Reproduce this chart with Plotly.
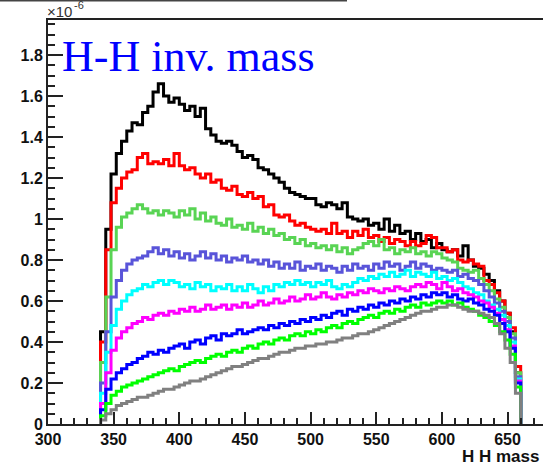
import plotly.graph_objects as go

# Histogram binning of the di-Higgs invariant mass
bin_lo = 340
bin_width = 4
n_bins = 80

# Bin contents (units of 1e-6), one list per sample
black_vals = [0.45, 0.95, 1.22, 1.32, 1.38, 1.43, 1.47, 1.46, 1.52, 1.55,
              1.62, 1.66, 1.60, 1.57, 1.59, 1.56, 1.53, 1.55, 1.50, 1.54,
              1.44, 1.41, 1.38, 1.37, 1.38, 1.36, 1.33, 1.30, 1.31, 1.29,
              1.25, 1.24, 1.22, 1.20, 1.18, 1.15, 1.13, 1.12, 1.11, 1.10,
              1.10, 1.07, 1.06, 1.08, 1.07, 1.05, 1.08, 1.01, 1.00, 0.99,
              1.00, 0.97, 0.98, 0.95, 1.00, 0.94, 0.97, 0.93, 0.94, 0.90,
              0.93, 0.89, 0.90, 0.86, 0.88, 0.85, 0.84, 0.85, 0.82, 0.87,
              0.80, 0.77, 0.76, 0.73, 0.70, 0.65, 0.60, 0.54, 0.45, 0.25]
red_vals = [0.40, 0.85, 1.08, 1.15, 1.20, 1.23, 1.24, 1.30, 1.32, 1.27,
            1.28, 1.27, 1.29, 1.26, 1.32, 1.26, 1.24, 1.25, 1.22, 1.20,
            1.22, 1.18, 1.19, 1.15, 1.14, 1.16, 1.12, 1.11, 1.13, 1.10,
            1.11, 1.06, 1.07, 1.02, 1.01, 1.02, 0.99, 0.97, 0.98, 0.96,
            0.95, 0.94, 0.95, 0.93, 0.98, 0.93, 0.94, 0.91, 0.94, 0.92,
            0.95, 0.91, 0.92, 0.89, 0.91, 0.88, 0.90, 0.89, 0.87, 0.89,
            0.87, 0.88, 0.92, 0.91, 0.86, 0.86, 0.84, 0.85, 0.80, 0.79,
            0.80, 0.78, 0.77, 0.70, 0.68, 0.64, 0.60, 0.54, 0.47, 0.28]
lightgreen_vals = [0.30, 0.62, 0.85, 0.96, 1.01, 1.03, 1.05, 1.07, 1.05, 1.03,
                   1.04, 1.02, 1.04, 1.03, 1.01, 1.04, 1.02, 1.05, 1.00, 1.03,
                   0.99, 1.01, 0.98, 0.97, 1.00, 0.96, 0.97, 0.95, 0.98, 0.94,
                   0.96, 0.93, 0.95, 0.92, 0.93, 0.90, 0.91, 0.88, 0.90, 0.87,
                   0.88, 0.86, 0.87, 0.85, 0.87, 0.84, 0.86, 0.83, 0.85, 0.86,
                   0.88, 0.89, 0.87, 0.90, 0.85, 0.86, 0.83, 0.85, 0.84, 0.86,
                   0.83, 0.84, 0.82, 0.84, 0.83, 0.81, 0.80, 0.79, 0.76, 0.75,
                   0.74, 0.75, 0.71, 0.68, 0.65, 0.61, 0.57, 0.52, 0.44, 0.25]
slate_vals = [0.20, 0.45, 0.62, 0.70, 0.75, 0.78, 0.80, 0.81, 0.82, 0.84,
              0.86, 0.83, 0.85, 0.82, 0.84, 0.81, 0.83, 0.80, 0.82, 0.84,
              0.81, 0.83, 0.80, 0.82, 0.79, 0.81, 0.80, 0.82, 0.79, 0.80,
              0.78, 0.80, 0.77, 0.79, 0.76, 0.78, 0.76, 0.79, 0.75, 0.77,
              0.76, 0.78, 0.75, 0.77, 0.76, 0.74, 0.77, 0.75, 0.78, 0.76,
              0.77, 0.75, 0.78, 0.76, 0.79, 0.77, 0.78, 0.75, 0.77, 0.79,
              0.76, 0.78, 0.77, 0.75, 0.76, 0.75, 0.74, 0.75, 0.72, 0.73,
              0.71, 0.70, 0.68, 0.65, 0.62, 0.59, 0.55, 0.50, 0.42, 0.23]
cyan_vals = [0.15, 0.35, 0.48, 0.56, 0.60, 0.63, 0.65, 0.66, 0.68, 0.67,
             0.69, 0.70, 0.68, 0.70, 0.69, 0.67, 0.68, 0.66, 0.69, 0.67,
             0.68, 0.65, 0.67, 0.66, 0.68, 0.65, 0.67, 0.65, 0.68, 0.66,
             0.64, 0.67, 0.65, 0.68, 0.67, 0.69, 0.68, 0.70, 0.68, 0.69,
             0.67, 0.69, 0.68, 0.70, 0.67, 0.66, 0.68, 0.67, 0.69, 0.71,
             0.70, 0.72, 0.71, 0.73, 0.72, 0.74, 0.72, 0.73, 0.75, 0.72,
             0.74, 0.73, 0.72, 0.74, 0.71, 0.72, 0.70, 0.71, 0.69, 0.67,
             0.66, 0.64, 0.63, 0.60, 0.58, 0.56, 0.53, 0.48, 0.40, 0.22]
magenta_vals = [0.10, 0.25, 0.36, 0.42, 0.45, 0.47, 0.49, 0.50, 0.52, 0.51,
                0.53, 0.54, 0.53, 0.55, 0.54, 0.56, 0.55, 0.57, 0.55, 0.56,
                0.58, 0.56, 0.57, 0.58, 0.56, 0.58, 0.57, 0.59, 0.57, 0.58,
                0.60, 0.58, 0.59, 0.61, 0.59, 0.60, 0.62, 0.60, 0.61, 0.63,
                0.61, 0.62, 0.64, 0.62, 0.61, 0.63, 0.62, 0.64, 0.63, 0.65,
                0.64, 0.66, 0.65, 0.64, 0.66, 0.65, 0.67, 0.66, 0.65, 0.67,
                0.68, 0.67, 0.69, 0.68, 0.66, 0.69, 0.67, 0.65, 0.66, 0.64,
                0.63, 0.62, 0.60, 0.59, 0.57, 0.54, 0.51, 0.46, 0.38, 0.21]
blue_vals = [0.07, 0.17, 0.22, 0.25, 0.27, 0.29, 0.30, 0.32, 0.33, 0.35,
             0.34, 0.36, 0.35, 0.37, 0.38, 0.39, 0.37, 0.40, 0.41, 0.39,
             0.42, 0.43, 0.41, 0.44, 0.43, 0.44, 0.46, 0.44, 0.45, 0.46,
             0.47, 0.46, 0.48, 0.47, 0.49, 0.48, 0.50, 0.49, 0.51, 0.50,
             0.52, 0.51, 0.53, 0.52, 0.54, 0.55, 0.53, 0.56, 0.55, 0.57,
             0.56, 0.58, 0.57, 0.59, 0.58, 0.60, 0.59, 0.61, 0.60, 0.62,
             0.61, 0.63, 0.62, 0.64, 0.63, 0.64, 0.62, 0.63, 0.61, 0.60,
             0.61, 0.59, 0.58, 0.56, 0.55, 0.53, 0.49, 0.45, 0.37, 0.20]
green_vals = [0.04, 0.10, 0.14, 0.16, 0.18, 0.19, 0.20, 0.21, 0.22, 0.23,
              0.24, 0.25, 0.26, 0.27, 0.26, 0.28, 0.29, 0.30, 0.31, 0.30,
              0.32, 0.33, 0.34, 0.33, 0.35, 0.36, 0.35, 0.37, 0.38, 0.37,
              0.39, 0.40, 0.39, 0.41, 0.42, 0.41, 0.43, 0.44, 0.43, 0.45,
              0.44, 0.46, 0.45, 0.47, 0.48, 0.47, 0.49, 0.50, 0.49, 0.51,
              0.52, 0.53, 0.52, 0.54, 0.55, 0.54, 0.56, 0.55, 0.57, 0.58,
              0.57, 0.59, 0.58, 0.59, 0.60, 0.59, 0.60, 0.58, 0.59, 0.57,
              0.56, 0.55, 0.53, 0.52, 0.50, 0.48, 0.45, 0.41, 0.34, 0.18]
gray_vals = [0.02, 0.05, 0.07, 0.09, 0.10, 0.11, 0.12, 0.13, 0.13, 0.14,
             0.15, 0.16, 0.17, 0.17, 0.18, 0.19, 0.20, 0.21, 0.21, 0.22,
             0.23, 0.24, 0.25, 0.26, 0.27, 0.28, 0.28, 0.29, 0.30, 0.31,
             0.32, 0.32, 0.33, 0.34, 0.35, 0.35, 0.36, 0.37, 0.37, 0.38,
             0.38, 0.39, 0.39, 0.40, 0.40, 0.41, 0.42, 0.42, 0.43, 0.44,
             0.44, 0.45, 0.46, 0.47, 0.48, 0.49, 0.50, 0.51, 0.52, 0.53,
             0.54, 0.55, 0.55, 0.56, 0.57, 0.57, 0.58, 0.58, 0.57, 0.56,
             0.55, 0.55, 0.54, 0.53, 0.52, 0.49, 0.44, 0.37, 0.30, 0.15]

x_tick_vals = [300, 350, 400, 450, 500, 550, 600, 650]
y_tick_vals = [0, 0.2, 0.4, 0.6, 0.8, 1, 1.2, 1.4, 1.6, 1.8]
y_tick_text = ["0", "0.2", "0.4", "0.6", "0.8", "1", "1.2", "1.4", "1.6", "1.8"]

series = [
    (black_vals, "#000000"),
    (red_vals, "#ff0000"),
    (lightgreen_vals, "#59d454"),
    (slate_vals, "#5954d9"),
    (cyan_vals, "#00ffff"),
    (magenta_vals, "#ff00ff"),
    (blue_vals, "#0000ff"),
    (green_vals, "#00ff00"),
    (gray_vals, "#808080"),
]

edges = [bin_lo + i * bin_width for i in range(n_bins + 1)]

fig = go.Figure()
for vals, col in series:
    # step outline: rise from zero at the first edge, fall back to zero at the last
    xs = [edges[0]] + edges[:-1] + [edges[-1], edges[-1]]
    ys = [0] + vals + [vals[-1], 0]
    fig.add_trace(go.Scatter(x=xs, y=ys, mode="lines", line=dict(color=col, width=3, shape="hv"),
                             hoverinfo="skip", showlegend=False))

W, H = 543, 466
ml, mt, mb = 48, 20, 42
fig.update_layout(
    width=W, height=H,
    margin=dict(l=ml, r=0, t=mt, b=mb),
    paper_bgcolor="white", plot_bgcolor="white",
    showlegend=False,
)
fig.update_xaxes(
    range=[300, 677], showgrid=False, zeroline=False,
    showline=True, mirror=True, linecolor="#222222", linewidth=2,
    ticks="inside", ticklen=12, tickwidth=1.5, tickcolor="#222222",
    tickvals=x_tick_vals, ticktext=[str(v) for v in x_tick_vals],
    tickfont=dict(family="Liberation Sans", size=16, color="#111111", weight="bold"),
    minor=dict(dtick=10, tick0=300, ticks="inside", ticklen=6, tickwidth=1.5, tickcolor="#222222"),
)
fig.update_yaxes(
    range=[0, 1.971], showgrid=False, zeroline=False,
    showline=True, mirror=False, linecolor="#222222", linewidth=2,
    ticks="inside", ticklen=15, tickwidth=1.5, tickcolor="#222222",
    tickvals=y_tick_vals, ticktext=y_tick_text,
    tickfont=dict(family="Liberation Sans", size=16, color="#111111", weight="bold"),
    minor=dict(dtick=0.05, tick0=0, ticks="inside", ticklen=7, tickwidth=1.5, tickcolor="#222222"),
)

pw = W - ml
ph = H - mt - mb

def px_x(p):
    return (p - ml) / pw

def px_y(p):
    return (H - mb - p) / ph

fig.add_annotation(text="H-H inv. mass", xref="paper", yref="paper",
                   x=px_x(60), y=px_y(57), xanchor="left", yanchor="middle", showarrow=False,
                   font=dict(family="Liberation Serif", size=44, color="#0000ff"))
# axis multiplier: base and exponent
fig.add_annotation(text="×10", xref="paper", yref="paper",
                   x=px_x(45), y=px_y(12), xanchor="left", yanchor="middle", showarrow=False,
                   font=dict(family="Liberation Sans", size=15, color="#333333"))
fig.add_annotation(text="-6", xref="paper", yref="paper",
                   x=px_x(72), y=px_y(5), xanchor="left", yanchor="middle", showarrow=False,
                   font=dict(family="Liberation Sans", size=11, color="#333333"))
fig.add_annotation(text="H H mass", xref="paper", yref="paper",
                   x=px_x(541), y=px_y(456), xanchor="right", yanchor="middle", showarrow=False,
                   font=dict(family="Liberation Sans", size=17, color="#111111", weight="bold"))
# canvas title box edge along the top
fig.add_shape(type="line", xref="paper", yref="paper",
              x0=px_x(0), x1=px_x(347), y0=px_y(0.5), y1=px_y(0.5),
              line=dict(color="#444444", width=2))

fig.write_html("out.html")
